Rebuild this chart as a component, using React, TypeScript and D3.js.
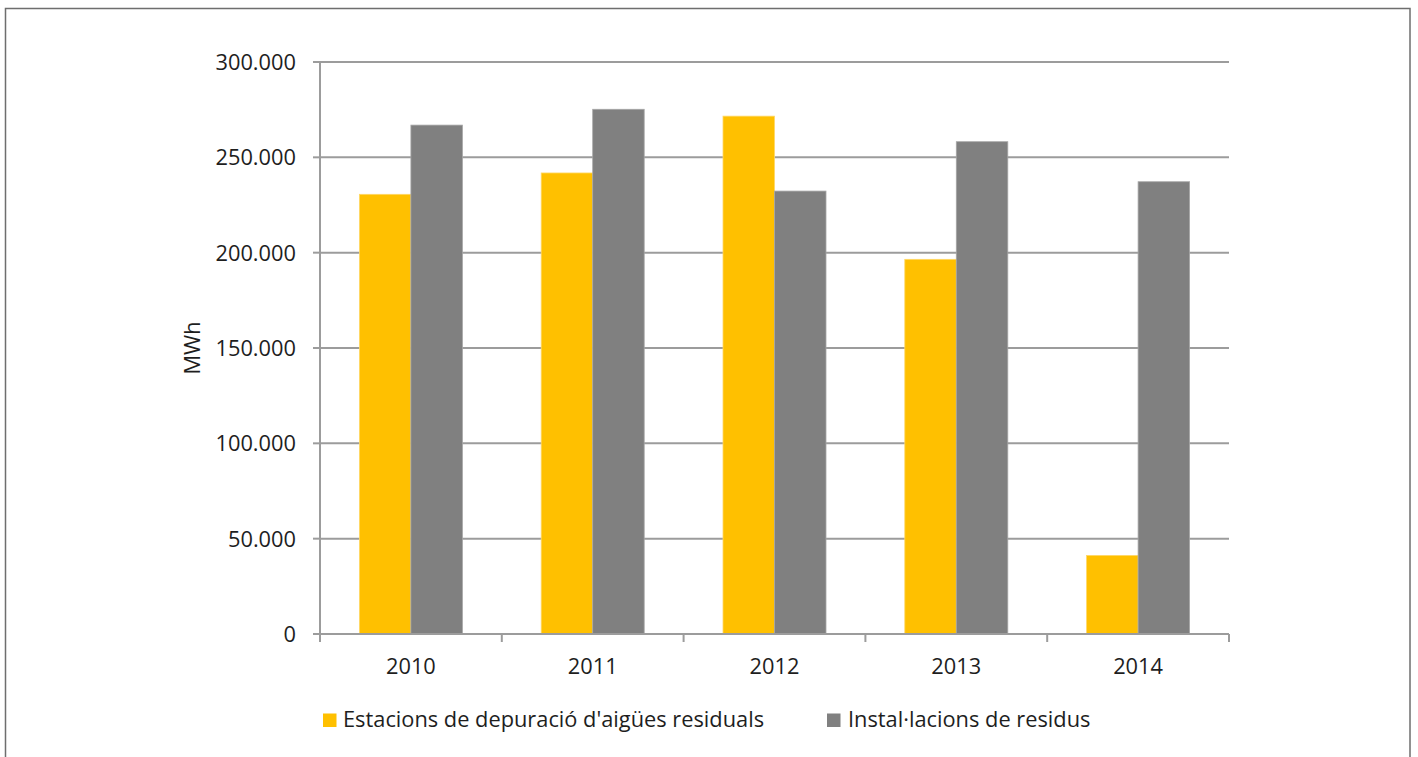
import React from "react";
import * as d3 from "d3";

const years = ["2010", "2011", "2012", "2013", "2014"];
const seriesNames = ["Estacions de depuració d'aigües residuals", "Instal·lacions de residus"];
const depuradores = [230600, 241800, 271600, 196500, 41200];
const residus = [266900, 275200, 232300, 258200, 237200];
const yTicks = [0, 50000, 100000, 150000, 200000, 250000, 300000];
const colors = ["#FFC000", "#808080"];

const W = 1418;
const H = 757;
const FONT = "'Open Sans', Lato, sans-serif";
const FS = 21.8;

export default function App() {
  const left = 320;
  const right = 1229;
  const top = 62;
  const bottom = 634;

  const x = d3.scaleBand<string>().domain(years).range([left, right]).paddingInner(0).paddingOuter(0);
  const xi = d3.scaleBand<number>().domain([0, 1]).range([0, x.bandwidth()]).paddingInner(0).paddingOuter(0.765);
  const y = d3.scaleLinear().domain([0, 300000]).range([bottom, top]);
  const fmt = (v: number) => (v === 0 ? "0" : d3.format(",")(v).replace(/,/g, "."));
  const series = [depuradores, residus];
  const boundaries = [...years.map((yr) => x(yr) as number), right];

  return (
    <svg width={W} height={H} style={{ position: "absolute", left: 0, top: 0, background: "#fff" }}>
      <rect x={5.5} y={8.5} width={1404.5} height={760} fill="#fff" stroke="#6e6e6e" strokeWidth={1.5} />
      {yTicks.filter((t) => t > 0).map((t) => (
        <line key={t} x1={left} x2={right} y1={y(t)} y2={y(t)} stroke="#9c9c9c" strokeWidth={2} />
      ))}
      {years.map((yr, i) => (
        <g key={yr} transform={`translate(${x(yr)},0)`}>
          {series.map((s, j) => (
            <rect
              key={j}
              x={xi(j)}
              y={y(s[i])}
              width={xi.bandwidth()}
              height={bottom - y(s[i])}
              fill={colors[j]}
              stroke={j === 0 ? "#ffd866" : "#a6a6a6"}
              strokeWidth={0.8}
            />
          ))}
        </g>
      ))}
      <line x1={left} x2={left} y1={top} y2={bottom + 8} stroke="#9c9c9c" strokeWidth={2} />
      {yTicks.map((t) => (
        <g key={t}>
          <line x1={left - 7} x2={left} y1={y(t)} y2={y(t)} stroke="#9c9c9c" strokeWidth={2} />
          <text x={296} y={y(t)} dy="0.36em" textAnchor="end" fontFamily={FONT} fontSize={FS} fill="#1e1e1e">
            {fmt(t)}
          </text>
        </g>
      ))}
      <line x1={left} x2={right} y1={bottom} y2={bottom} stroke="#9c9c9c" strokeWidth={2} />
      {boundaries.map((b, i) => (
        <line key={i} x1={b} x2={b} y1={bottom} y2={bottom + 8} stroke="#9c9c9c" strokeWidth={2} />
      ))}
      {years.map((yr) => (
        <text
          key={yr}
          x={(x(yr) as number) + x.bandwidth() / 2}
          y={674}
          textAnchor="middle"
          fontFamily={FONT}
          fontSize={FS}
          fill="#1e1e1e"
        >
          {yr}
        </text>
      ))}
      <text
        transform={`translate(200,348) rotate(-90)`}
        textAnchor="middle"
        fontFamily={FONT}
        fontSize={FS}
        fill="#1e1e1e"
      >
        MWh
      </text>
      <rect x={323} y={713.5} width={13.5} height={13.5} fill={colors[0]} />
      <text x={343} y={727} fontFamily={FONT} fontSize={FS} fill="#1e1e1e">
        {seriesNames[0]}
      </text>
      <rect x={827} y={713.5} width={13.5} height={13.5} fill={colors[1]} />
      <text x={848} y={727} fontFamily={FONT} fontSize={FS} fill="#1e1e1e">
        {seriesNames[1]}
      </text>
    </svg>
  );
}
